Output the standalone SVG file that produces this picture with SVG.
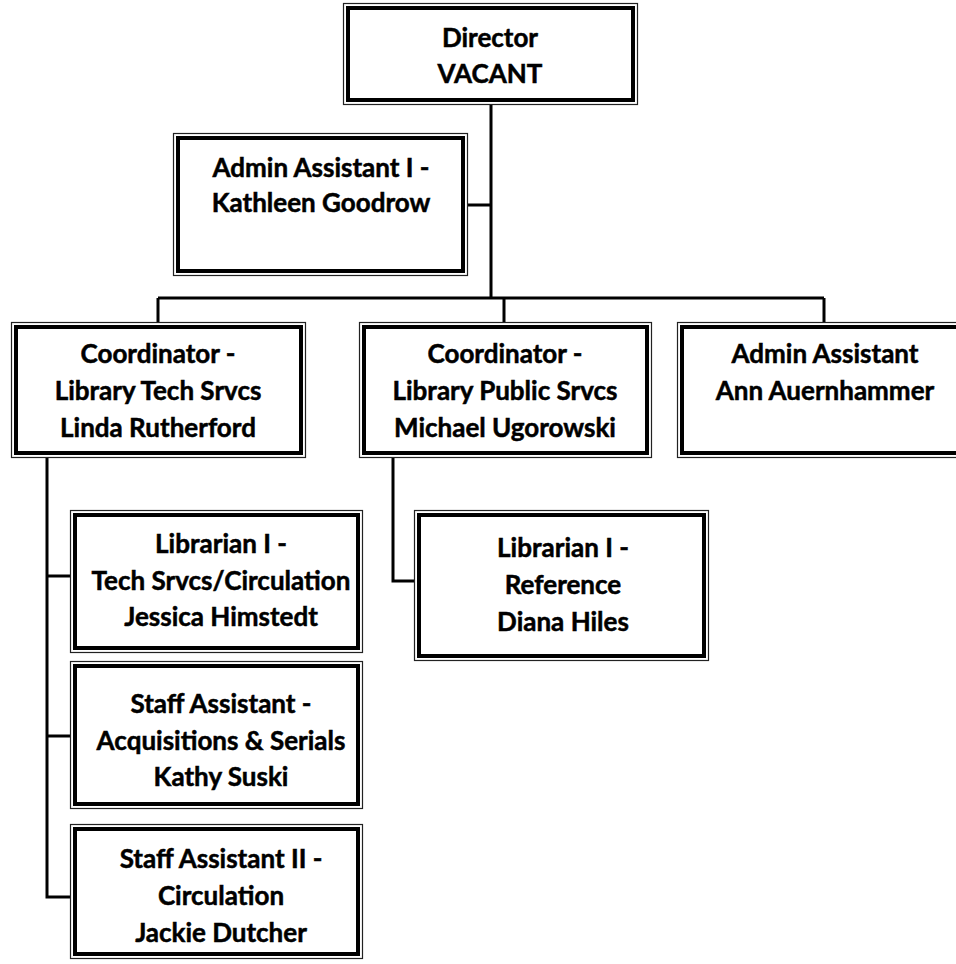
<svg xmlns="http://www.w3.org/2000/svg" width="956" height="964" viewBox="0 0 956 964">
<style>
.o{fill:#fff;stroke:#222;stroke-width:1.2}
.i{fill:none;stroke:#000;stroke-width:4}
.t{font-family:Lato,"Liberation Sans",sans-serif;font-weight:700;font-size:26px;fill:#000;stroke:#000;stroke-width:0.5;text-anchor:middle}
.c{fill:none;stroke:#000;stroke-width:3;stroke-linejoin:miter}
</style>
<rect width="956" height="964" fill="#fff"/>
<g id="connectors">
<path class="c" d="M491 105V298M468 205H491M158 298H824M158 298V322M504 298V322M824 298V322"/>
<path class="c" d="M47 458V897H70M47 576H70M47 736H70"/>
<path class="c" d="M393 458V581H414"/>
</g>
<g id="director">
<rect class="o" x="343.5" y="3.5" width="294" height="101"/>
<rect class="i" x="348" y="8" width="285" height="92"/>
<text class="t" x="490" y="47">Director</text>
<text class="t" x="490" y="83">VACANT</text>
</g>
<g id="admin1">
<rect class="o" x="173.5" y="133.5" width="294" height="142"/>
<rect class="i" x="178" y="138" width="285" height="133"/>
<text class="t" x="321" y="177">Admin Assistant I -</text>
<text class="t" x="321" y="212">Kathleen Goodrow</text>
</g>
<g id="coordTech">
<rect class="o" x="11.5" y="322.5" width="294" height="135"/>
<rect class="i" x="16" y="327" width="285" height="126"/>
<text class="t" x="158" y="363">Coordinator -</text>
<text class="t" x="158" y="400">Library Tech Srvcs</text>
<text class="t" x="158" y="437">Linda Rutherford</text>
</g>
<g id="coordPublic">
<rect class="o" x="359.5" y="322.5" width="292" height="135"/>
<rect class="i" x="364" y="327" width="283" height="126"/>
<text class="t" x="505" y="363">Coordinator -</text>
<text class="t" x="505" y="400">Library Public Srvcs</text>
<text class="t" x="505" y="437">Michael Ugorowski</text>
</g>
<g id="adminAsst">
<rect class="o" x="677.5" y="322.5" width="294" height="135"/>
<rect class="i" x="682" y="327" width="285" height="126"/>
<text class="t" x="825" y="363">Admin Assistant</text>
<text class="t" x="825" y="400">Ann Auernhammer</text>
</g>
<g id="librarianTech">
<rect class="o" x="70.5" y="510.5" width="292" height="142"/>
<rect class="i" x="75" y="515" width="283" height="133"/>
<text class="t" x="221" y="553">Librarian I -</text>
<text class="t" x="221" y="590">Tech Srvcs/Circulation</text>
<text class="t" x="221" y="626">Jessica Himstedt</text>
</g>
<g id="staffAsst">
<rect class="o" x="70.5" y="661.5" width="292" height="147"/>
<rect class="i" x="75" y="666" width="283" height="138"/>
<text class="t" x="221" y="713">Staff Assistant -</text>
<text class="t" x="221" y="750">Acquisitions &amp; Serials</text>
<text class="t" x="221" y="786">Kathy Suski</text>
</g>
<g id="staffAsst2">
<rect class="o" x="70.5" y="824.5" width="292" height="134"/>
<rect class="i" x="75" y="829" width="283" height="125"/>
<text class="t" x="221" y="868">Staff Assistant II -</text>
<text class="t" x="221" y="905">Circulation</text>
<text class="t" x="221" y="942">Jackie Dutcher</text>
</g>
<g id="librarianRef">
<rect class="o" x="414.5" y="510.5" width="294" height="150"/>
<rect class="i" x="419" y="515" width="285" height="141"/>
<text class="t" x="563" y="557">Librarian I -</text>
<text class="t" x="563" y="594">Reference</text>
<text class="t" x="563" y="631">Diana Hiles</text>
</g>
</svg>
